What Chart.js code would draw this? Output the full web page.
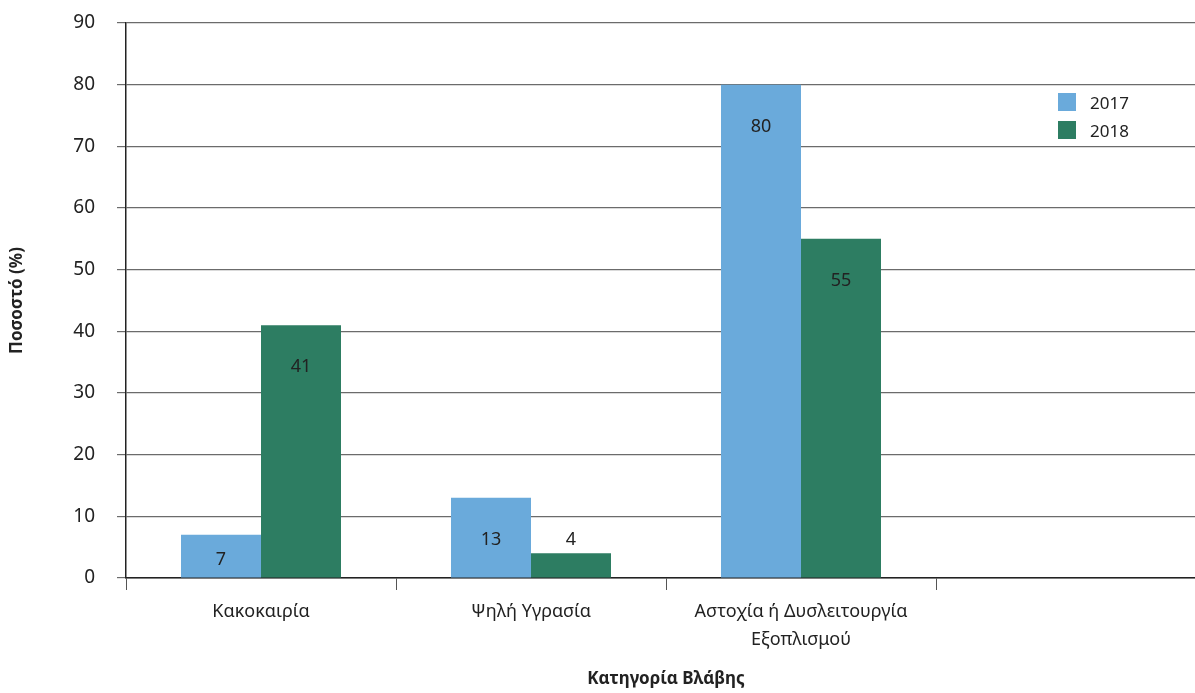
<!DOCTYPE html>
<html>
<head>
<meta charset="utf-8">
<script src="https://cdn.jsdelivr.net/npm/chart.js@4.4.1/dist/chart.umd.min.js"></script>
<style>
  html, body { margin: 0; padding: 0; background: #fff; overflow: hidden; }
  #wrap { position: relative; width: 1206px; height: 693px; }
  #legend { position: absolute; left: 1058px; top: 88px; font-family: "Noto Sans", sans-serif; font-size: 17px; color: #222; }
  #legend div { display: flex; align-items: center; height: 28px; }
  #legend span.box { display: inline-block; width: 18px; height: 18px; margin-right: 14px; }
</style>
</head>
<body>
<div id="wrap">
  <canvas id="chart" width="1206" height="693"></canvas>
  <div id="legend"></div>
</div>
<script>
// Data
const categories = ['Κακοκαιρία', 'Ψηλή Υγρασία', ['Αστοχία ή Δυσλειτουργία', 'Εξοπλισμού'], ''];
const seriesNames = ['2017', '2018'];
const values2017 = [7, 13, 80, null];
const values2018 = [41, 4, 55, null];
const yTicks = [0, 10, 20, 30, 40, 50, 60, 70, 80, 90];
const colors = ['#6aaadb', '#2d7d62'];

const FONT = '"Noto Sans", sans-serif';

// labels inside bar tops, above very short bars
const barLabels = {
    id: 'barLabels',
    afterDatasetsDraw(chart) {
        const ctx = chart.ctx;
        ctx.save();
        ctx.font = '18px ' + FONT;
        ctx.fillStyle = '#222';
        ctx.textAlign = 'center';
        ctx.textBaseline = 'middle';
        chart.data.datasets.forEach((ds, di) => {
            chart.getDatasetMeta(di).data.forEach((bar, i) => {
                const v = ds.data[i];
                if (v == null) return;
                const h = bar.base - bar.y;
                let y;
                if (h < 30) y = bar.y - 13;
                else y = Math.min(bar.y + 42, bar.base - 18);
                ctx.fillText(String(v), bar.x, y);
            });
        });
        ctx.restore();
    }
};

const chart = new Chart(document.getElementById('chart'), {
    type: 'bar',
    data: {
        labels: categories,
        datasets: [
            { label: seriesNames[0], data: values2017, backgroundColor: colors[0] },
            { label: seriesNames[1], data: values2018, backgroundColor: colors[1] }
        ]
    },
    options: {
        responsive: false,
        animation: false,
        categoryPercentage: 160 / 270,
        barPercentage: 1,
        layout: { padding: { top: 23, right: 0, left: 0, bottom: 4 } },
        plugins: { legend: { display: false }, tooltip: { enabled: false } },
        scales: {
            x: {
                grid: { offset: true, drawOnChartArea: false, tickLength: 12, color: '#555' },
                border: { color: '#222', width: 1.5 },
                ticks: { color: '#222', font: { family: FONT, size: 18, lineHeight: 1.55 }, padding: 8, maxRotation: 0, autoSkip: false },
                title: { display: true, text: 'Κατηγορία Βλάβης', color: '#222', font: { family: FONT, size: 17, weight: 'bold' }, padding: { top: 0, bottom: 0 } },
                afterFit(scale) { scale.height = 111; }
            },
            y: {
                min: 0, max: 90,
                afterBuildTicks(scale) { scale.ticks = yTicks.map(v => ({ value: v })); },
                grid: { color: '#6b6b6b', lineWidth: 1.2, tickLength: 9 },
                border: { color: '#222', width: 1.5 },
                ticks: { color: '#222', font: { family: FONT, size: 19 }, padding: 22 },
                title: { display: true, text: 'Ποσοστό (%)', color: '#222', font: { family: FONT, size: 17, weight: 'bold' }, padding: { top: 7, bottom: 0 } },
                afterFit(scale) { scale.width = 126; scale.paddingTop = 0; scale.paddingBottom = 0; }
            }
        }
    },
    plugins: [barLabels]
});

// Legend
const legend = document.getElementById('legend');
seriesNames.forEach((name, i) => {
    const row = document.createElement('div');
    row.innerHTML = `<span class="box" style="background:${colors[i]}"></span>${name}`;
    legend.appendChild(row);
});
</script>
</body>
</html>
